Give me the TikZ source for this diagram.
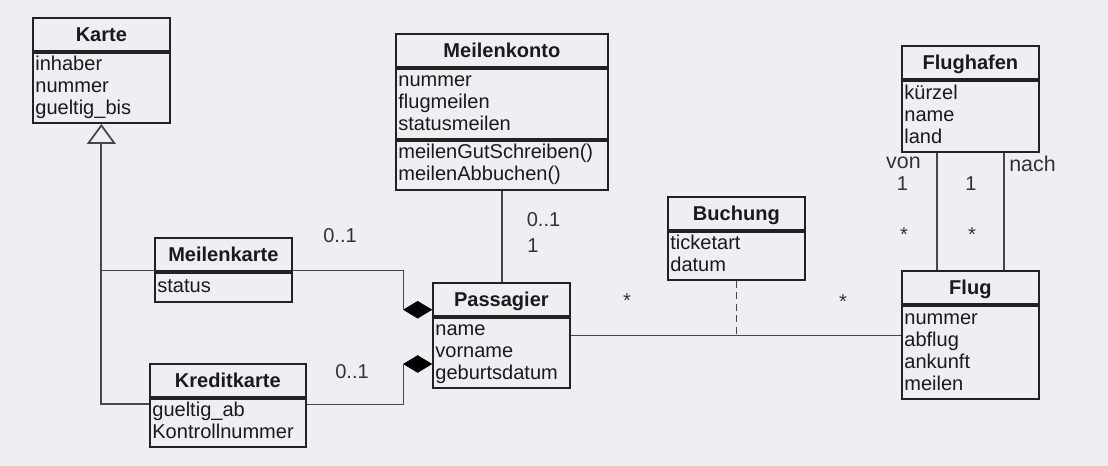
\documentclass[tikz,border=0pt]{standalone}
\usepackage{fontspec}
\setmainfont{Liberation Sans}
\usetikzlibrary{arrows.meta,shapes.geometric}
\definecolor{bg}{RGB}{238,239,242}
\definecolor{boxline}{RGB}{34,34,34}
\definecolor{conn}{RGB}{70,70,70}
\definecolor{txt}{RGB}{26,26,26}
\definecolor{lbl}{RGB}{50,50,50}
\newcommand{\umlfont}{\fontsize{11.4}{12.52}\selectfont}
\tikzset{
  klasse/.style={draw=boxline, line width=1pt, font=\umlfont\bfseries, text=txt,
    minimum height=0.67cm, inner sep=0pt, text height=8.2pt, text depth=0pt, anchor=north west},
  attr/.style={draw=boxline, line width=1pt, font=\umlfont, text=txt, align=left, anchor=north,
    inner xsep=0.05cm, inner ysep=0pt, execute at begin node=\strut, execute at end node=\strut},
  rolle/.style={font=\umlfont, text=lbl, inner sep=0pt},
  verb/.style={draw=conn, line width=0.75pt},
  raute/.style={diamond, fill=black, draw=black, minimum width=0.56cm, minimum height=0.34cm, inner sep=0pt},
}
\begin{document}
\begin{tikzpicture}[x=0.02cm,y=-0.02cm]
        \fill[bg] (0,0) rectangle (1108,466);
        %Klassen
        \node[klasse, minimum width=2.74cm] (karte) at (32,17) {Karte};
        \node[attr, text width=2.64cm, minimum height=1.4cm] (kartea) at (karte.south) {inhaber\\nummer\\gueltig\_bis};
        \node[klasse, minimum width=4.24cm] (mkonto) at (395,33) {Meilenkonto};
        \node[attr, text width=4.14cm, minimum height=1.4cm] (mkontoa) at (mkonto.south) {nummer\\flugmeilen\\statusmeilen};
        \node[attr, text width=4.14cm, minimum height=0.98cm] (mkontoo) at (mkontoa.south) {meilenGutSchreiben()\\meilenAbbuchen()};
        \node[klasse, minimum width=2.74cm] (fhafen) at (901,45) {Flughafen};
        \node[attr, text width=2.64cm, minimum height=1.42cm] (fhafena) at (fhafen.south) {kürzel\\name\\land};
        \node[klasse, minimum width=2.74cm] (mkarte) at (154,237) {Meilenkarte};
        \node[attr, text width=2.64cm, minimum height=0.58cm] (mkartea) at (mkarte.south) {status};
        \node[klasse, minimum width=3.12cm] (kkarte) at (149,363) {Kreditkarte};
        \node[attr, text width=3.02cm, minimum height=0.96cm] (kkartea) at (kkarte.south) {gueltig\_ab\\Kontrollnummer};
        \node[klasse, minimum width=2.74cm] (pass) at (432,282) {Passagier};
        \node[attr, text width=2.64cm, minimum height=1.4cm] (passa) at (pass.south) {name\\vorname\\geburtsdatum};
        \node[klasse, minimum width=2.74cm] (buch) at (667,196) {Buchung};
        \node[attr, text width=2.64cm, minimum height=0.96cm] (bucha) at (buch.south) {ticketart\\datum};
        \node[klasse, minimum width=2.74cm] (flug) at (901,270) {Flug};
        \node[attr, text width=2.64cm, minimum height=1.86cm] (fluga) at (flug.south) {nummer\\abflug\\ankunft\\meilen};
        %Vererbung
        \coordinate (gen1) at ([yshift=0.04cm]mkarte.south west);
        \coordinate (gen2) at ([yshift=-0.12cm]kkarte.south west);
        \draw[verb, line width=1pt, -{Triangle[open, length=0.4cm, width=0.58cm]}] (gen2) -| (kartea.south);
        \draw[verb] (gen1) -- (gen1 -| kartea.south);
        %Komposition
        \node[raute, anchor=east] (r1) at ([yshift=0.15cm]pass.south west) {};
        \node[raute, anchor=east] (r2) at ([yshift=0.5cm]passa.south west) {};
        \coordinate (comp1) at ([yshift=0.04cm]mkarte.south east);
        \coordinate (comp2) at ([yshift=-0.12cm]kkarte.south east);
        \draw[verb] (r1.west) |- (comp1);
        \draw[verb] (r2.west) |- (comp2);
        %Assoziationen
        \draw[verb] (mkontoo.south) -- (mkontoo.south |- pass.north);
        \coordinate (pf) at ([yshift=-0.36cm]passa.north east);
        \draw[verb] (pf) -- (pf -| fluga.west);
        \draw[verb, dash pattern=on 4pt off 2.5pt] (bucha.south) -- (bucha.south |- pf);
        \draw[verb] ([xshift=-0.67cm]fhafena.south) -- ([xshift=-0.67cm]fhafena.south |- flug.north);
        \draw[verb] ([xshift=0.67cm]fhafena.south) -- ([xshift=0.67cm]fhafena.south |- flug.north);
        % Multiplizitaeten
        \node[rolle] (m1) at (340,236) {0..1};
        \node[rolle] (m2) at (352,372) {0..1};
        \node[rolle] (m3) at (543.5,219.5) {0..1};
        \node[rolle] (m4) at (533,246) {1};
        \node[rolle] (m5) at (627,301) {*};
        \node[rolle] (m6) at (843,302) {*};
        \node[rolle] (m7) at (902.5,184) {1};
        \node[rolle] (m8) at (971,184) {1};
        \node[rolle] (m9) at (904,235) {*};
        \node[rolle] (m10) at (972,235) {*};
        \node[rolle, font=\fontsize{12.2}{14}\selectfont] (von) at (903.5,163) {von};
        \node[rolle, font=\fontsize{12.2}{14}\selectfont] (nach) at (1032.5,163.5) {nach};
      \end{tikzpicture}
\end{document}
